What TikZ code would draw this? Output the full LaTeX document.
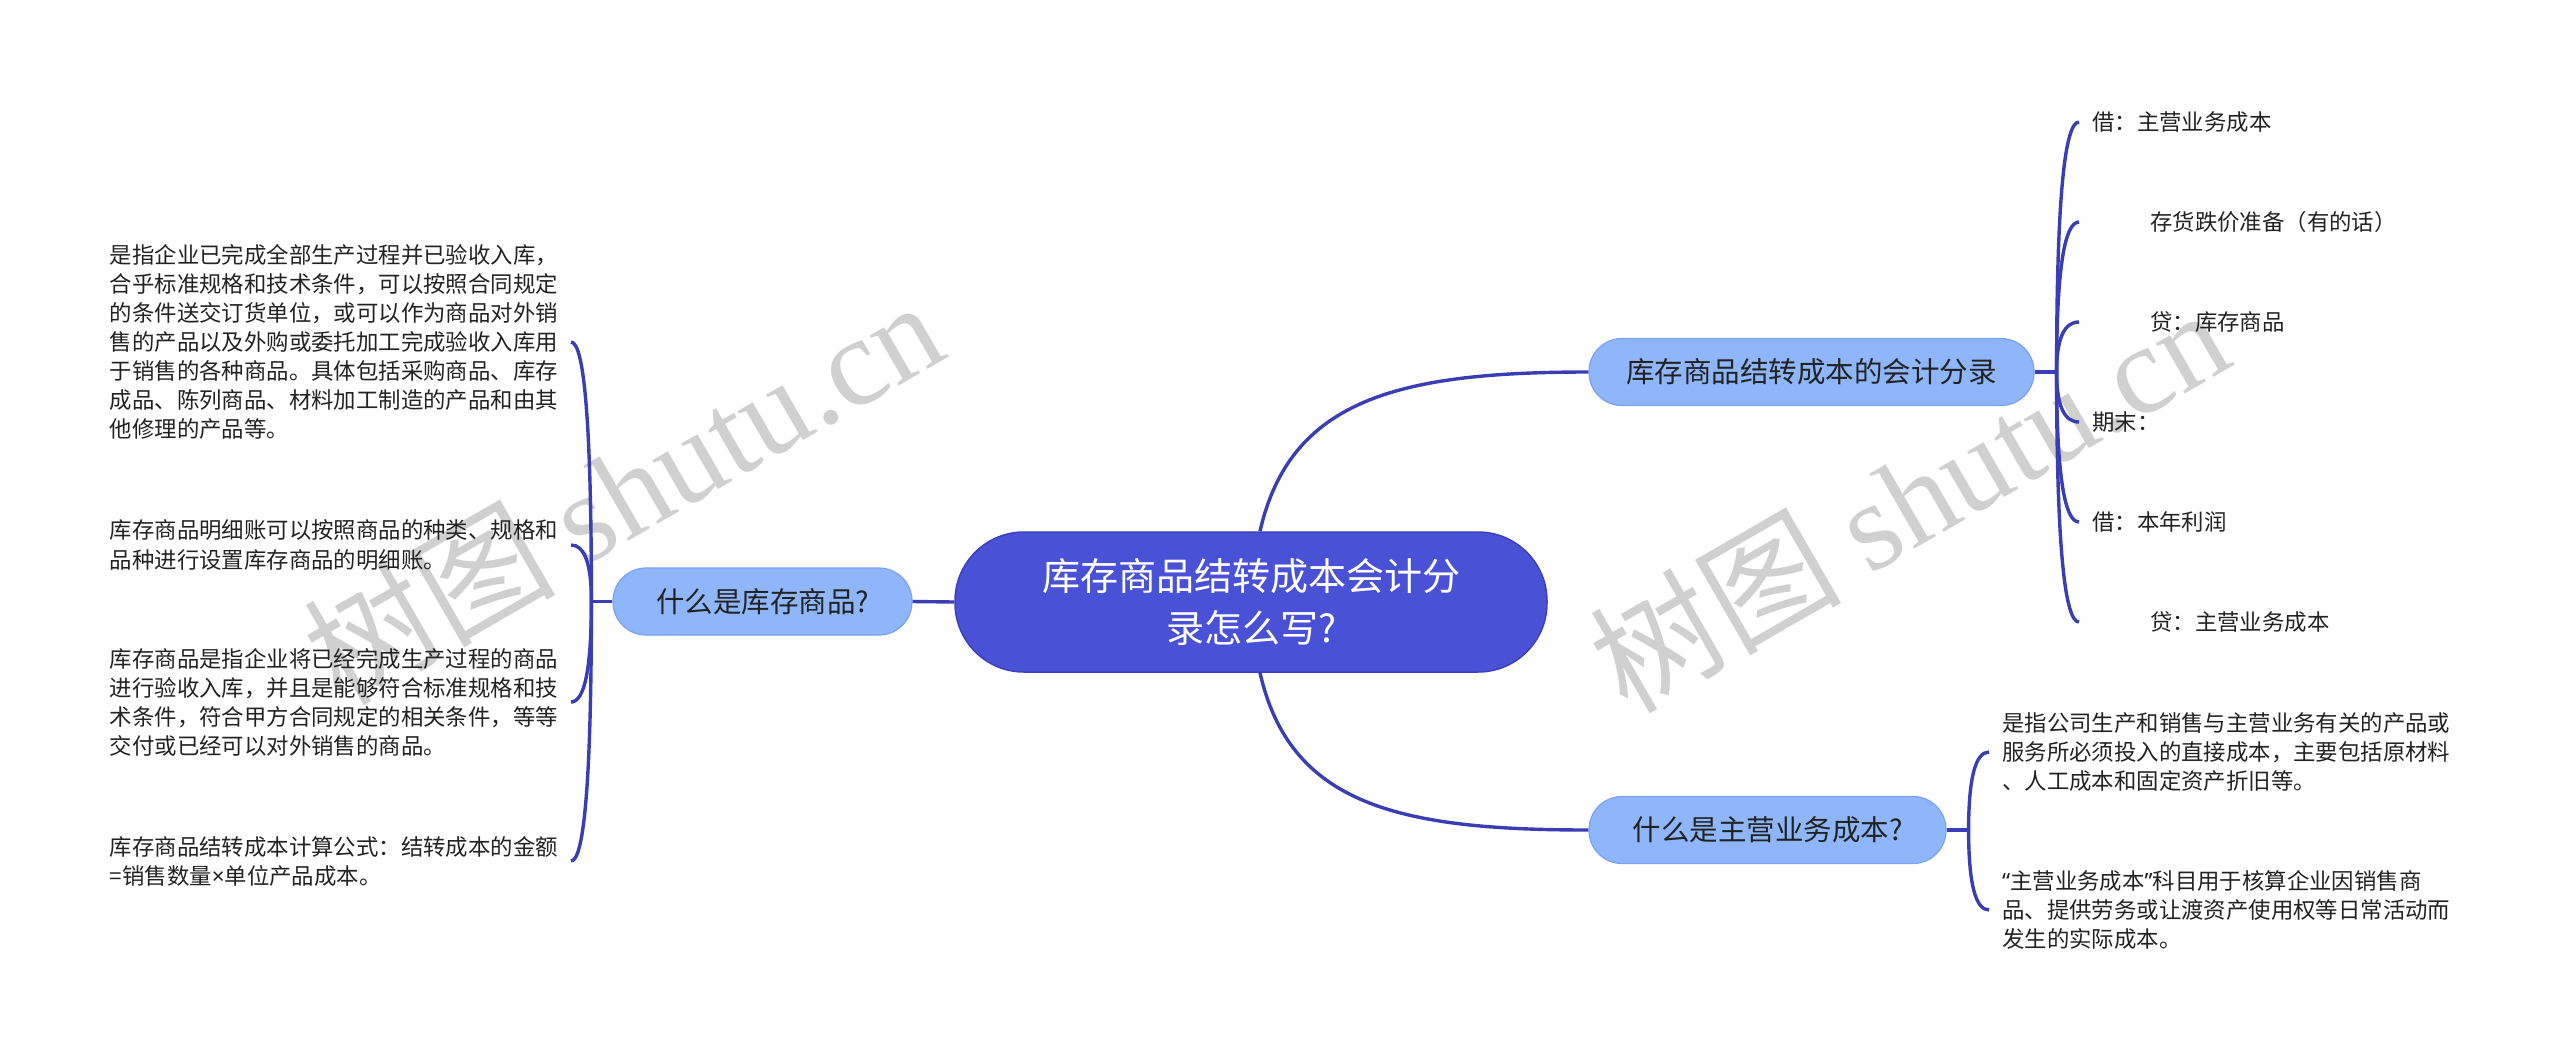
\documentclass[tikz,border=0pt]{standalone}
\usepackage{fontspec}
\usepackage{tikz}
\usetikzlibrary{calc}
\newfontfamily\cjk{Noto Sans CJK SC}
\newfontfamily\latin{Noto Sans}
\newfontfamily\wmlatin{Liberation Serif}
\definecolor{rootblue}{RGB}{73,81,215}
\definecolor{rootedge}{RGB}{58,64,190}
\definecolor{subblue}{RGB}{143,182,250}
\definecolor{subedge}{RGB}{122,162,240}
\definecolor{linkblue}{RGB}{58,62,180}
\definecolor{inkgray}{RGB}{34,34,34}
\definecolor{wmgray}{RGB}{208,208,208}

\begin{document}
\begin{tikzpicture}[x=1pt, y=-1pt, font=\cjk,
    root/.style={draw=rootedge, line width=1.5pt, fill=rootblue, text=white, rounded corners=69pt, minimum width=592pt, minimum height=140pt, align=center, font=\cjk\fontsize{38}{52}\selectfont},
    sub/.style={draw=subedge, line width=1.2pt, fill=subblue, text=inkgray, rounded corners=33pt, minimum height=67pt, inner sep=0pt, font=\cjk\fontsize{28.5}{34}\selectfont},
    leaf/.style={inner xsep=13pt, inner ysep=0pt, text=inkgray, align=left, font=\cjk\fontsize{22.4}{29}\selectfont},
    link/.style={draw=linkblue, line width=3.4pt},
    hookto/.style={to path={.. controls ($(\tikztostart)!2/3!(\tikztostart|-\tikztotarget)$) and ($(\tikztotarget)!2/3!(\tikztostart|-\tikztotarget)$) .. (\tikztotarget)}},
    wm/.style={text=wmgray, rotate=30, inner sep=0pt, font=\cjk\fontsize{126}{126}\selectfont}]
    \useasboundingbox (0, 0) rectangle (2560, 1061);
    \node[wm] (wm1) at (622, 490) {树图 {\wmlatin shutu.cn}};
    \node[wm] (wm2) at (1908, 498) {树图 {\wmlatin shutu.cn}};

    \node[root] (cen) at (1251, 602) {库存商品结转成本会计分\\录怎么写?};
    \node[sub, minimum width=299pt] (whatis) at (762.5, 601.5) {什么是库存商品?};
    \node[sub, minimum width=445pt] (entry) at (1811.5, 372) {库存商品结转成本的会计分录};
    \node[sub, minimum width=357pt] (cost) at (1767.5, 830) {什么是主营业务成本?};

    \coordinate (defhub) at ([xshift=-21pt]whatis.west);
    \coordinate (entryhub) at ([xshift=22pt]entry.east);
    \coordinate (costhub) at ([xshift=22pt]cost.east);

    \node[leaf, anchor=east] (def1) at (571, 342) {是指企业已完成全部生产过程并已验收入库，\\合乎标准规格和技术条件，可以按照合同规定\\的条件送交订货单位，或可以作为商品对外销\\售的产品以及外购或委托加工完成验收入库用\\于销售的各种商品。具体包括采购商品、库存\\成品、陈列商品、材料加工制造的产品和由其\\他修理的产品等。};
    \node[leaf, anchor=east] (def2) at (571, 545) {库存商品明细账可以按照商品的种类、规格和\\品种进行设置库存商品的明细账。};
    \node[leaf, anchor=east] (def3) at (571, 702) {库存商品是指企业将已经完成生产过程的商品\\进行验收入库，并且是能够符合标准规格和技\\术条件，符合甲方合同规定的相关条件，等等\\交付或已经可以对外销售的商品。};
    \node[leaf, anchor=east] (def4) at (571, 861) {库存商品结转成本计算公式：结转成本的金额\\=销售数量{\latin ×}单位产品成本。};

    \node[leaf, anchor=west] (e1) at (2079, 122) {借：主营业务成本};
    \node[leaf, anchor=west] (e2) at (2079, 222) {\hspace*{58pt}存货跌价准备（有的话）};
    \node[leaf, anchor=west] (e3) at (2079, 322) {\hspace*{58pt}贷：库存商品};
    \node[leaf, anchor=west] (e4) at (2079, 422) {期末：};
    \node[leaf, anchor=west] (e5) at (2079, 522) {借：本年利润};
    \node[leaf, anchor=west] (e6) at (2079, 622) {\hspace*{58pt}贷：主营业务成本};

    \node[leaf, anchor=west] (c1) at (1989, 752) {是指公司生产和销售与主营业务有关的产品或\\服务所必须投入的直接成本，主要包括原材料\\、人工成本和固定资产折旧等。};
    \node[leaf, anchor=west] (c2) at (1989, 910) {{\latin “}主营业务成本{\latin ”}科目用于核算企业因销售商\\品、提供劳务或让渡资产使用权等日常活动而\\发生的实际成本。};

    \draw[link] (cen.west) -- (whatis.east);
    \draw[link] ([xshift=9pt]cen.north) .. controls +(30, -132) and +(-190, 0) .. (entry.west);
    \draw[link] ([xshift=9pt]cen.south) .. controls +(30, 132) and +(-190, 0) .. (cost.west);

    \draw[link] (whatis.west) -- (defhub);
    \draw[link] (defhub) to[hookto] (def1.east);
    \draw[link] (defhub) to[hookto] (def2.east);
    \draw[link] (defhub) to[hookto] (def3.east);
    \draw[link] (defhub) to[hookto] (def4.east);

    \draw[link] (entry.east) -- (entryhub);
    \draw[link] (entryhub) to[hookto] (e1.west);
    \draw[link] (entryhub) to[hookto] (e2.west);
    \draw[link] (entryhub) to[hookto] (e3.west);
    \draw[link] (entryhub) to[hookto] (e4.west);
    \draw[link] (entryhub) to[hookto] (e5.west);
    \draw[link] (entryhub) to[hookto] (e6.west);

    \draw[link] (cost.east) -- (costhub);
    \draw[link] (costhub) to[hookto] (c1.west);
    \draw[link] (costhub) to[hookto] (c2.west);
\end{tikzpicture}
\end{document}
